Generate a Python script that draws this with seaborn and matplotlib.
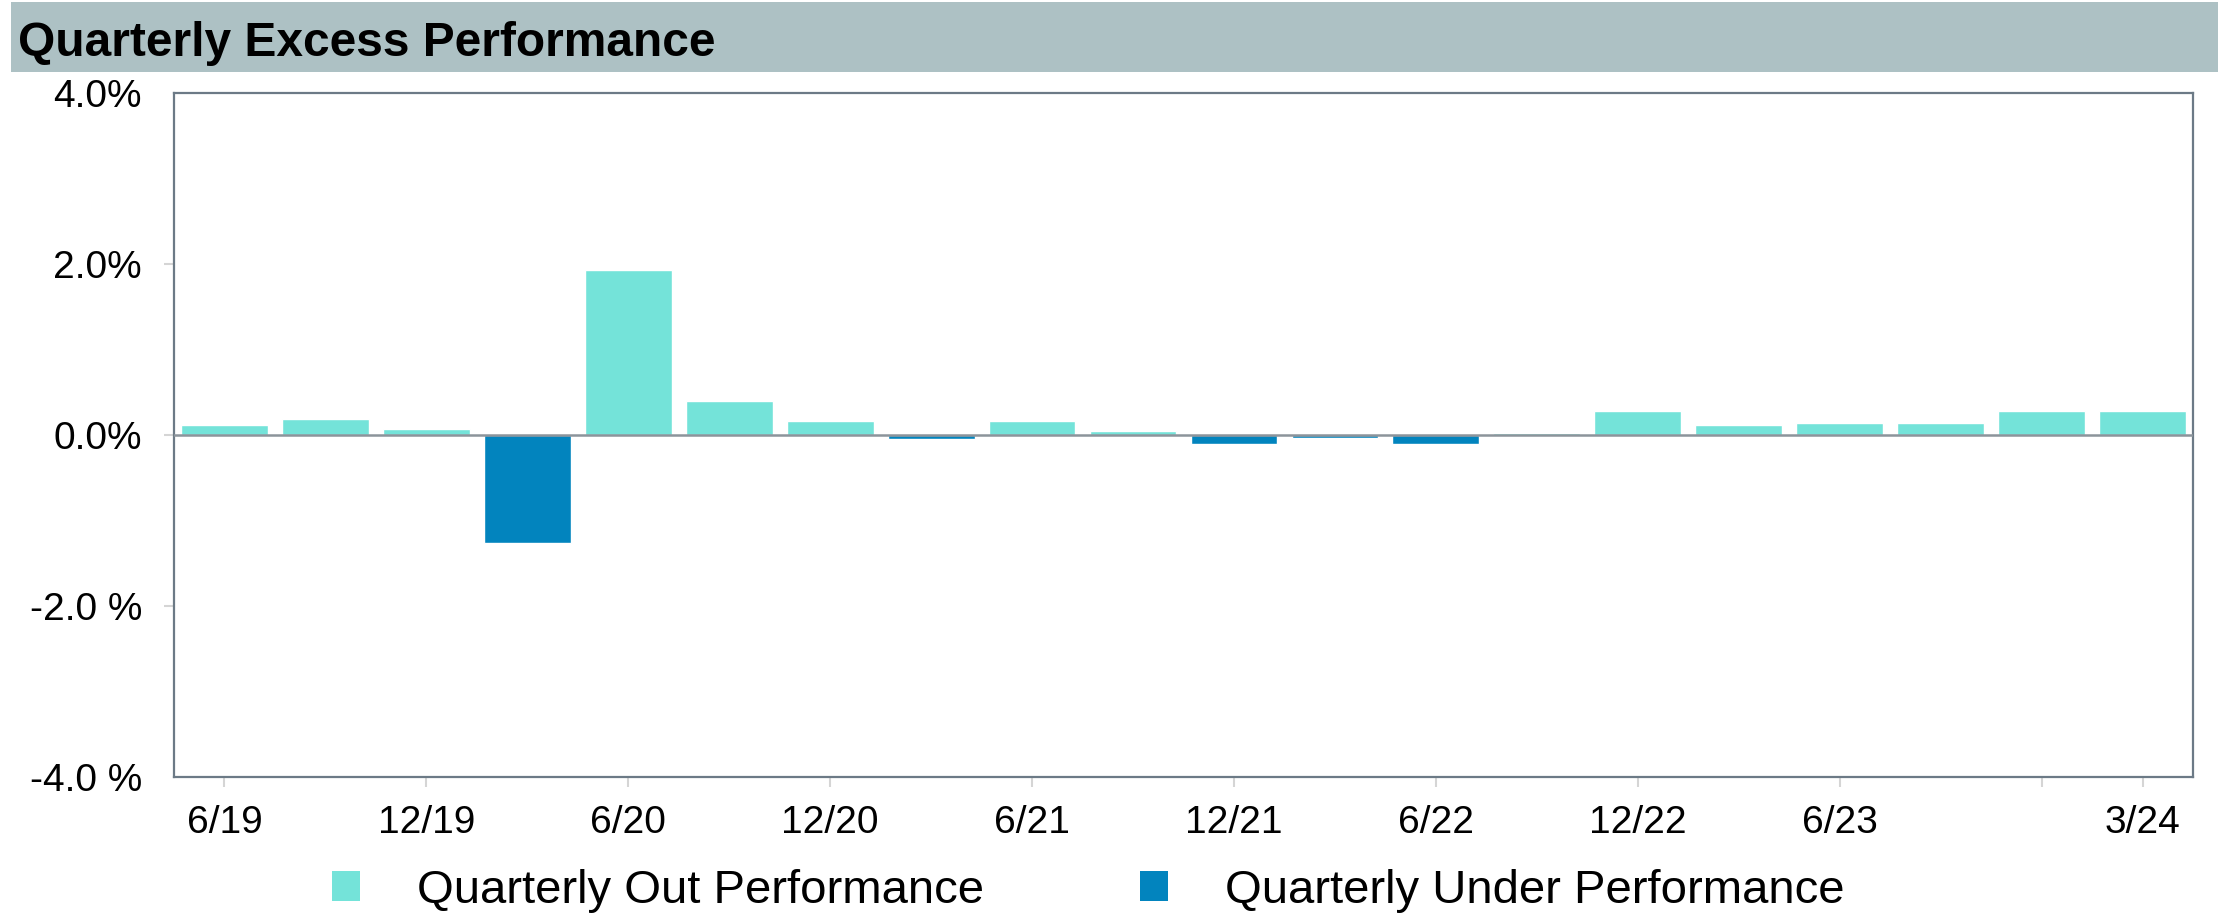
import matplotlib
matplotlib.use("Agg")
import matplotlib.pyplot as plt
from matplotlib.patches import Rectangle, Patch
import seaborn as sns
import pandas as pd

# ---- data ----
quarters = ["6/19", "9/19", "12/19", "3/20", "6/20", "9/20", "12/20", "3/21",
            "6/21", "9/21", "12/21", "3/22", "6/22", "9/22", "12/22", "3/23",
            "6/23", "9/23", "12/23", "3/24"]
excess = [0.12, 0.19, 0.07, -1.26, 1.93, 0.40, 0.16, -0.05,
          0.16, 0.05, -0.10, -0.03, -0.10, 0.02, 0.28, 0.12,
          0.14, 0.14, 0.28, 0.28]
series_names = ["Quarterly Out Performance", "Quarterly Under Performance"]
tick_positions = [0, 2, 4, 6, 8, 10, 12, 14, 16, 18, 19]
tick_labels = ["6/19", "12/19", "6/20", "12/20", "6/21", "12/21", "6/22",
               "12/22", "6/23", "", "3/24"]
y_ticks = [-4, -2, 0, 2, 4]
y_tick_labels = ["-4.0 %", "-2.0 %", "0.0%", "2.0%", "4.0%"]
title = "Quarterly Excess Performance"

colors = {series_names[0]: "#74e3d9", series_names[1]: "#0284be"}

df = pd.DataFrame({
    "quarter": quarters,
    "value": excess,
    "kind": [series_names[0] if v >= 0 else series_names[1] for v in excess],
})

sns.set_style("white")
plt.rcParams["font.family"] = ["Liberation Sans", "DejaVu Sans"]
plt.rcParams["text.color"] = "black"

W, H = 2218, 918
fig = plt.figure(figsize=(W / 100, H / 100), dpi=100)
ax = fig.add_axes([174 / W, 1 - 777 / H, (2193 - 174) / W, (777 - 93) / H])

sns.barplot(data=df, x="quarter", y="value", hue="kind", order=quarters,
            hue_order=series_names, palette=colors, dodge=False, width=0.86,
            saturation=1, legend=False, ax=ax, zorder=2)
ax.axhline(0, color="#8c949b", lw=1.8, zorder=3)

ax.set_xlim(-0.5, len(quarters) - 0.5)
ax.set_ylim(-4, 4)
ax.set_xlabel("")
ax.set_ylabel("")

ax.set_xticks(tick_positions)
ax.set_xticklabels(tick_labels)
ax.set_yticks(y_ticks)
ax.set_yticklabels(y_tick_labels)
ax.tick_params(axis="x", length=7, width=1.5, color="#d5d5d5", pad=13,
               labelsize=28, labelcolor="black", direction="out", bottom=True)
ax.tick_params(axis="y", length=7, width=1.5, color="#d5d5d5", pad=16,
               labelsize=28, labelcolor="black", direction="out", left=True)
yt = ax.yaxis.get_major_ticks()
yt[0].tick1line.set_visible(False)
yt[-1].tick1line.set_visible(False)

for s in ax.spines.values():
    s.set_visible(True)
    s.set_color("#6c7a86")
    s.set_linewidth(1.6)
ax.grid(False)

# title bar
fig.patches.append(Rectangle((11 / W, 1 - 72 / H), 1 - 11 / W, 70 / H,
                             transform=fig.transFigure, facecolor="#adc1c4",
                             edgecolor="none", zorder=0))
fig.text(18 / W, 1 - 56 / H, title, fontsize=34.5, fontweight="bold",
         ha="left", va="baseline", color="black")

# legend
fs = 34
fpx = fs * 100 / 72
handles = [Patch(facecolor=colors[n], edgecolor="none", label=n) for n in series_names]
leg = fig.legend(handles=handles, loc="center left",
                 bbox_to_anchor=(332 / W, 1 - 891 / H), ncol=2, frameon=False,
                 fontsize=fs, handlelength=28 / fpx, handleheight=28 / fpx,
                 handletextpad=57 / fpx, columnspacing=156 / fpx,
                 borderpad=0, borderaxespad=0, labelcolor="black")

fig.savefig("out.png", dpi=100)
